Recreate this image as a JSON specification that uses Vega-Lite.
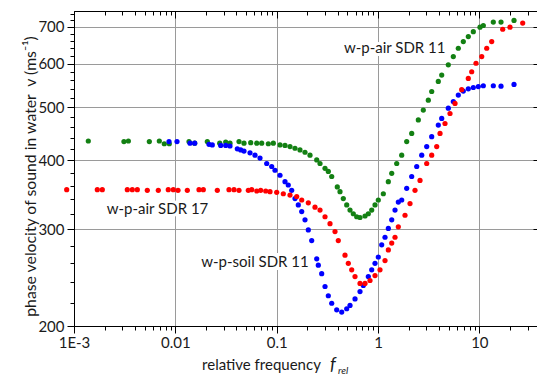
{
  "$schema": "https://vega.github.io/schema/vega-lite/v6.json",
  "width": 464,
  "height": 315,
  "autosize": {"type": "none"},
  "padding": {"left": 74, "top": 11, "right": 0, "bottom": 49},
  "background": "white",
  "config": {
    "view": {"stroke": "#000000", "strokeWidth": 1},
    "font": "Lato",
    "axis": {
      "domainColor": "#000000", "tickColor": "#000000", "labelColor": "#1a1a1a", "titleColor": "#1a1a1a",
      "labelFont": "Lato", "titleFont": "Lato", "labelFontSize": 15, "titleFontSize": 15,
      "titleFontWeight": "normal", "gridColor": "#9a9a9a", "gridWidth": 1, "domainWidth": 1, "tickWidth": 1
    }
  },
  "datasets": {
    "points": [
      {"series": "w-p-air SDR 11", "f": 0.001384, "v": 434}, {"series": "w-p-air SDR 11", "f": 0.00311, "v": 433},
      {"series": "w-p-air SDR 11", "f": 0.00344, "v": 434}, {"series": "w-p-air SDR 11", "f": 0.00554, "v": 433},
      {"series": "w-p-air SDR 11", "f": 0.00695, "v": 434}, {"series": "w-p-air SDR 11", "f": 0.00778, "v": 429},
      {"series": "w-p-air SDR 11", "f": 0.00872, "v": 429}, {"series": "w-p-air SDR 11", "f": 0.01364, "v": 433},
      {"series": "w-p-air SDR 11", "f": 0.01553, "v": 430}, {"series": "w-p-air SDR 11", "f": 0.02068, "v": 433},
      {"series": "w-p-air SDR 11", "f": 0.02742, "v": 430}, {"series": "w-p-air SDR 11", "f": 0.03141, "v": 432},
      {"series": "w-p-air SDR 11", "f": 0.03463, "v": 430}, {"series": "w-p-air SDR 11", "f": 0.04249, "v": 433},
      {"series": "w-p-air SDR 11", "f": 0.04761, "v": 430}, {"series": "w-p-air SDR 11", "f": 0.05544, "v": 431},
      {"series": "w-p-air SDR 11", "f": 0.06353, "v": 430}, {"series": "w-p-air SDR 11", "f": 0.07118, "v": 430},
      {"series": "w-p-air SDR 11", "f": 0.08272, "v": 429}, {"series": "w-p-air SDR 11", "f": 0.09266, "v": 430},
      {"series": "w-p-air SDR 11", "f": 0.1079, "v": 427}, {"series": "w-p-air SDR 11", "f": 0.1209, "v": 426},
      {"series": "w-p-air SDR 11", "f": 0.1354, "v": 424}, {"series": "w-p-air SDR 11", "f": 0.1517, "v": 421},
      {"series": "w-p-air SDR 11", "f": 0.1699, "v": 418}, {"series": "w-p-air SDR 11", "f": 0.1904, "v": 414},
      {"series": "w-p-air SDR 11", "f": 0.2133, "v": 409}, {"series": "w-p-air SDR 11", "f": 0.2485, "v": 401},
      {"series": "w-p-air SDR 11", "f": 0.2678, "v": 395}, {"series": "w-p-air SDR 11", "f": 0.3001, "v": 387},
      {"series": "w-p-air SDR 11", "f": 0.3234, "v": 382}, {"series": "w-p-air SDR 11", "f": 0.3494, "v": 374},
      {"series": "w-p-air SDR 11", "f": 0.3967, "v": 358}, {"series": "w-p-air SDR 11", "f": 0.4218, "v": 351},
      {"series": "w-p-air SDR 11", "f": 0.4546, "v": 341}, {"series": "w-p-air SDR 11", "f": 0.4912, "v": 332},
      {"series": "w-p-air SDR 11", "f": 0.5294, "v": 325}, {"series": "w-p-air SDR 11", "f": 0.5706, "v": 320},
      {"series": "w-p-air SDR 11", "f": 0.6165, "v": 316}, {"series": "w-p-air SDR 11", "f": 0.6645, "v": 315},
      {"series": "w-p-air SDR 11", "f": 0.7446, "v": 317}, {"series": "w-p-air SDR 11", "f": 0.8025, "v": 320},
      {"series": "w-p-air SDR 11", "f": 0.8669, "v": 325}, {"series": "w-p-air SDR 11", "f": 0.9344, "v": 332},
      {"series": "w-p-air SDR 11", "f": 1.007, "v": 339}, {"series": "w-p-air SDR 11", "f": 1.129, "v": 348},
      {"series": "w-p-air SDR 11", "f": 1.265, "v": 366}, {"series": "w-p-air SDR 11", "f": 1.366, "v": 379},
      {"series": "w-p-air SDR 11", "f": 1.53, "v": 395}, {"series": "w-p-air SDR 11", "f": 1.714, "v": 409},
      {"series": "w-p-air SDR 11", "f": 1.92, "v": 433}, {"series": "w-p-air SDR 11", "f": 2.151, "v": 448},
      {"series": "w-p-air SDR 11", "f": 2.5, "v": 474}, {"series": "w-p-air SDR 11", "f": 2.8, "v": 494},
      {"series": "w-p-air SDR 11", "f": 3.137, "v": 515}, {"series": "w-p-air SDR 11", "f": 3.389, "v": 534},
      {"series": "w-p-air SDR 11", "f": 3.937, "v": 557}, {"series": "w-p-air SDR 11", "f": 4.254, "v": 572},
      {"series": "w-p-air SDR 11", "f": 4.941, "v": 597}, {"series": "w-p-air SDR 11", "f": 5.536, "v": 618},
      {"series": "w-p-air SDR 11", "f": 6.203, "v": 640}, {"series": "w-p-air SDR 11", "f": 6.949, "v": 658},
      {"series": "w-p-air SDR 11", "f": 7.785, "v": 672}, {"series": "w-p-air SDR 11", "f": 8.721, "v": 686},
      {"series": "w-p-air SDR 11", "f": 10.15, "v": 699}, {"series": "w-p-air SDR 11", "f": 10.95, "v": 704},
      {"series": "w-p-air SDR 11", "f": 13.74, "v": 714}, {"series": "w-p-air SDR 11", "f": 16.37, "v": 714},
      {"series": "w-p-air SDR 11", "f": 21.99, "v": 719},

      {"series": "w-p-soil SDR 11", "f": 0.00866, "v": 433}, {"series": "w-p-soil SDR 11", "f": 0.01039, "v": 433},
      {"series": "w-p-soil SDR 11", "f": 0.01396, "v": 430}, {"series": "w-p-soil SDR 11", "f": 0.01553, "v": 430},
      {"series": "w-p-soil SDR 11", "f": 0.02149, "v": 428}, {"series": "w-p-soil SDR 11", "f": 0.02316, "v": 427},
      {"series": "w-p-soil SDR 11", "f": 0.02804, "v": 426}, {"series": "w-p-soil SDR 11", "f": 0.03141, "v": 426},
      {"series": "w-p-soil SDR 11", "f": 0.03463, "v": 425}, {"series": "w-p-soil SDR 11", "f": 0.04088, "v": 420},
      {"series": "w-p-soil SDR 11", "f": 0.04417, "v": 418}, {"series": "w-p-soil SDR 11", "f": 0.04761, "v": 416},
      {"series": "w-p-soil SDR 11", "f": 0.05456, "v": 413}, {"series": "w-p-soil SDR 11", "f": 0.06113, "v": 409},
      {"series": "w-p-soil SDR 11", "f": 0.06849, "v": 404}, {"series": "w-p-soil SDR 11", "f": 0.07976, "v": 395},
      {"series": "w-p-soil SDR 11", "f": 0.08933, "v": 390}, {"series": "w-p-soil SDR 11", "f": 0.09629, "v": 384},
      {"series": "w-p-soil SDR 11", "f": 0.1079, "v": 376}, {"series": "w-p-soil SDR 11", "f": 0.1209, "v": 366},
      {"series": "w-p-soil SDR 11", "f": 0.1302, "v": 361}, {"series": "w-p-soil SDR 11", "f": 0.1407, "v": 353},
      {"series": "w-p-soil SDR 11", "f": 0.1517, "v": 341}, {"series": "w-p-soil SDR 11", "f": 0.1635, "v": 332},
      {"series": "w-p-soil SDR 11", "f": 0.1767, "v": 323}, {"series": "w-p-soil SDR 11", "f": 0.1904, "v": 312},
      {"series": "w-p-soil SDR 11", "f": 0.2053, "v": 299}, {"series": "w-p-soil SDR 11", "f": 0.2217, "v": 286},
      {"series": "w-p-soil SDR 11", "f": 0.2485, "v": 265}, {"series": "w-p-soil SDR 11", "f": 0.2576, "v": 258},
      {"series": "w-p-soil SDR 11", "f": 0.2783, "v": 249}, {"series": "w-p-soil SDR 11", "f": 0.3001, "v": 236},
      {"series": "w-p-soil SDR 11", "f": 0.3234, "v": 227}, {"series": "w-p-soil SDR 11", "f": 0.3494, "v": 220},
      {"series": "w-p-soil SDR 11", "f": 0.3913, "v": 214}, {"series": "w-p-soil SDR 11", "f": 0.4385, "v": 212},
      {"series": "w-p-soil SDR 11", "f": 0.4912, "v": 215}, {"series": "w-p-soil SDR 11", "f": 0.5294, "v": 218},
      {"series": "w-p-soil SDR 11", "f": 0.5932, "v": 224}, {"series": "w-p-soil SDR 11", "f": 0.6645, "v": 231},
      {"series": "w-p-soil SDR 11", "f": 0.7161, "v": 237}, {"series": "w-p-soil SDR 11", "f": 0.8025, "v": 246},
      {"series": "w-p-soil SDR 11", "f": 0.8669, "v": 253}, {"series": "w-p-soil SDR 11", "f": 0.9344, "v": 260},
      {"series": "w-p-soil SDR 11", "f": 1.007, "v": 267}, {"series": "w-p-soil SDR 11", "f": 1.088, "v": 281},
      {"series": "w-p-soil SDR 11", "f": 1.173, "v": 290}, {"series": "w-p-soil SDR 11", "f": 1.265, "v": 301},
      {"series": "w-p-soil SDR 11", "f": 1.366, "v": 312}, {"series": "w-p-soil SDR 11", "f": 1.472, "v": 325},
      {"series": "w-p-soil SDR 11", "f": 1.587, "v": 336}, {"series": "w-p-soil SDR 11", "f": 1.714, "v": 339},
      {"series": "w-p-soil SDR 11", "f": 1.92, "v": 356}, {"series": "w-p-soil SDR 11", "f": 2.151, "v": 374},
      {"series": "w-p-soil SDR 11", "f": 2.411, "v": 390}, {"series": "w-p-soil SDR 11", "f": 2.701, "v": 409},
      {"series": "w-p-soil SDR 11", "f": 3.025, "v": 424}, {"series": "w-p-soil SDR 11", "f": 3.389, "v": 442},
      {"series": "w-p-soil SDR 11", "f": 3.937, "v": 464}, {"series": "w-p-soil SDR 11", "f": 4.254, "v": 477},
      {"series": "w-p-soil SDR 11", "f": 4.941, "v": 498}, {"series": "w-p-soil SDR 11", "f": 5.536, "v": 512},
      {"series": "w-p-soil SDR 11", "f": 6.203, "v": 526}, {"series": "w-p-soil SDR 11", "f": 6.949, "v": 535},
      {"series": "w-p-soil SDR 11", "f": 7.785, "v": 540}, {"series": "w-p-soil SDR 11", "f": 8.721, "v": 543},
      {"series": "w-p-soil SDR 11", "f": 9.77, "v": 545}, {"series": "w-p-soil SDR 11", "f": 10.95, "v": 547},
      {"series": "w-p-soil SDR 11", "f": 13.74, "v": 547}, {"series": "w-p-soil SDR 11", "f": 16.37, "v": 546},
      {"series": "w-p-soil SDR 11", "f": 21.99, "v": 550},

      {"series": "w-p-air SDR 17", "f": 0.000847, "v": 354}, {"series": "w-p-air SDR 17", "f": 0.001698, "v": 354},
      {"series": "w-p-air SDR 17", "f": 0.001902, "v": 354}, {"series": "w-p-air SDR 17", "f": 0.003357, "v": 354},
      {"series": "w-p-air SDR 17", "f": 0.003761, "v": 354}, {"series": "w-p-air SDR 17", "f": 0.004214, "v": 354},
      {"series": "w-p-air SDR 17", "f": 0.005288, "v": 353}, {"series": "w-p-air SDR 17", "f": 0.00679, "v": 353},
      {"series": "w-p-air SDR 17", "f": 0.00852, "v": 354}, {"series": "w-p-air SDR 17", "f": 0.00955, "v": 354},
      {"series": "w-p-air SDR 17", "f": 0.01063, "v": 353}, {"series": "w-p-air SDR 17", "f": 0.01313, "v": 353},
      {"series": "w-p-air SDR 17", "f": 0.01712, "v": 354}, {"series": "w-p-air SDR 17", "f": 0.01888, "v": 354},
      {"series": "w-p-air SDR 17", "f": 0.02596, "v": 353}, {"series": "w-p-air SDR 17", "f": 0.03384, "v": 354},
      {"series": "w-p-air SDR 17", "f": 0.03793, "v": 354}, {"series": "w-p-air SDR 17", "f": 0.04249, "v": 353},
      {"series": "w-p-air SDR 17", "f": 0.0525, "v": 353}, {"series": "w-p-air SDR 17", "f": 0.05671, "v": 354},
      {"series": "w-p-air SDR 17", "f": 0.06353, "v": 352}, {"series": "w-p-air SDR 17", "f": 0.06958, "v": 353},
      {"series": "w-p-air SDR 17", "f": 0.07797, "v": 352}, {"series": "w-p-air SDR 17", "f": 0.08596, "v": 351},
      {"series": "w-p-air SDR 17", "f": 0.1001, "v": 350}, {"series": "w-p-air SDR 17", "f": 0.1163, "v": 348},
      {"series": "w-p-air SDR 17", "f": 0.1354, "v": 346}, {"series": "w-p-air SDR 17", "f": 0.1577, "v": 344},
      {"series": "w-p-air SDR 17", "f": 0.1767, "v": 339}, {"series": "w-p-air SDR 17", "f": 0.2053, "v": 335},
      {"series": "w-p-air SDR 17", "f": 0.239, "v": 329}, {"series": "w-p-air SDR 17", "f": 0.2678, "v": 325},
      {"series": "w-p-air SDR 17", "f": 0.3001, "v": 316}, {"series": "w-p-air SDR 17", "f": 0.3361, "v": 307},
      {"series": "w-p-air SDR 17", "f": 0.3765, "v": 297}, {"series": "w-p-air SDR 17", "f": 0.4057, "v": 286},
      {"series": "w-p-air SDR 17", "f": 0.4725, "v": 269}, {"series": "w-p-air SDR 17", "f": 0.5094, "v": 260},
      {"series": "w-p-air SDR 17", "f": 0.5503, "v": 253}, {"series": "w-p-air SDR 17", "f": 0.5932, "v": 246},
      {"series": "w-p-air SDR 17", "f": 0.6645, "v": 239}, {"series": "w-p-air SDR 17", "f": 0.7446, "v": 239},
      {"series": "w-p-air SDR 17", "f": 0.8341, "v": 242}, {"series": "w-p-air SDR 17", "f": 0.9344, "v": 247},
      {"series": "w-p-air SDR 17", "f": 1.047, "v": 253}, {"series": "w-p-air SDR 17", "f": 1.173, "v": 263},
      {"series": "w-p-air SDR 17", "f": 1.265, "v": 275}, {"series": "w-p-air SDR 17", "f": 1.366, "v": 283},
      {"series": "w-p-air SDR 17", "f": 1.472, "v": 290}, {"series": "w-p-air SDR 17", "f": 1.587, "v": 303},
      {"series": "w-p-air SDR 17", "f": 1.848, "v": 318}, {"series": "w-p-air SDR 17", "f": 2.07, "v": 334},
      {"series": "w-p-air SDR 17", "f": 2.319, "v": 353}, {"series": "w-p-air SDR 17", "f": 2.598, "v": 368},
      {"series": "w-p-air SDR 17", "f": 3.025, "v": 395}, {"series": "w-p-air SDR 17", "f": 3.389, "v": 409},
      {"series": "w-p-air SDR 17", "f": 3.797, "v": 424}, {"series": "w-p-air SDR 17", "f": 4.093, "v": 448},
      {"series": "w-p-air SDR 17", "f": 4.585, "v": 467}, {"series": "w-p-air SDR 17", "f": 5.137, "v": 487},
      {"series": "w-p-air SDR 17", "f": 5.754, "v": 508}, {"series": "w-p-air SDR 17", "f": 6.7, "v": 538},
      {"series": "w-p-air SDR 17", "f": 7.785, "v": 564}, {"series": "w-p-air SDR 17", "f": 8.41, "v": 580},
      {"series": "w-p-air SDR 17", "f": 9.273, "v": 601}, {"series": "w-p-air SDR 17", "f": 10.56, "v": 618},
      {"series": "w-p-air SDR 17", "f": 11.83, "v": 640}, {"series": "w-p-air SDR 17", "f": 13.25, "v": 658},
      {"series": "w-p-air SDR 17", "f": 17.01, "v": 693}, {"series": "w-p-air SDR 17", "f": 20.07, "v": 699},
      {"series": "w-p-air SDR 17", "f": 26.79, "v": 711}
    ],
    "labels": [
      {"label": "w-p-air SDR 11", "f": 1.462, "v": 641},
      {"label": "w-p-air SDR 17", "f": 0.00667, "v": 326},
      {"label": "w-p-soil SDR 11", "f": 0.0611, "v": 262}
    ],
    "symbol": [
      {"label": "f", "f": 0.3597, "v": 166},
      {"label": "rel", "f": 0.403, "v": 163.3}
    ]
  },
  "resolve": {"axis": {"x": "independent", "y": "independent"}},
  "layer": [
    {
      "data": {"name": "points"},
      "mark": {"type": "circle", "size": 27, "opacity": 1},
      "encoding": {
        "x": {
          "field": "f", "type": "quantitative",
          "scale": {"type": "log", "domain": [0.001, 37.93], "nice": false},
          "axis": {
            "orient": "bottom",
            "values": [0.001,0.002,0.003,0.004,0.005,0.006,0.007,0.008,0.009,0.01,0.02,0.03,0.04,0.05,0.06,0.07,0.08,0.09,0.1,0.2,0.3,0.4,0.5,0.6,0.7,0.8,0.9,1,2,3,4,5,6,7,8,9,10,20,30],
            "labelExpr": "datum.value == 0.001 ? '1E-3' : datum.value == 0.01 ? '0.01' : datum.value == 0.1 ? '0.1' : datum.value == 1 ? '1' : datum.value == 10 ? '10' : ''",
            "labelFlush": false, "labelOverlap": false, "labelBound": false,
            "grid": true,
            "tickSize": {"condition": {"test": "abs(log(datum.value)/LN10 - round(log(datum.value)/LN10)) < 0.001", "value": 7}, "value": 4},
            "gridOpacity": {"condition": {"test": "abs(log(datum.value)/LN10 - round(log(datum.value)/LN10)) < 0.001", "value": 1}, "value": 0},
            "labelPadding": 2,
            "title": "relative frequency",
            "titleX": 187, "titleY": 43, "titleBaseline": "alphabetic", "titleAlign": "center"
          }
        },
        "y": {
          "field": "v", "type": "quantitative",
          "scale": {"type": "log", "domain": [200, 748], "nice": false, "zero": false},
          "axis": {
            "orient": "left",
            "values": [200,220,240,260,280,300,320,340,360,380,400,420,440,460,480,500,520,540,560,580,600,620,640,660,680,700,720,740],
            "labelExpr": "datum.value % 100 == 0 ? '' + datum.value : ''",
            "labelOverlap": false, "labelFlush": false,
            "grid": true,
            "tickSize": {"condition": {"test": "datum.value % 100 == 0", "value": 7}, "value": 4},
            "gridOpacity": {"condition": {"test": "datum.value % 100 == 0", "value": 1}, "value": 0},
            "labelPadding": 3,
            "title": "phase velocity of sound in water\u00a0\u00a0v (ms⁻¹)",
            "titleFontSize": 15.8,
            "titleAngle": -90, "titleX": -39, "titleY": 165, "titleBaseline": "alphabetic", "titleAlign": "center"
          }
        },
        "color": {
          "field": "series", "type": "nominal",
          "scale": {"domain": ["w-p-air SDR 11", "w-p-air SDR 17", "w-p-soil SDR 11"], "range": ["#138013", "#ff0000", "#0000ff"]},
          "legend": null
        }
      }
    },
    {
      "data": {"name": "labels"},
      "mark": {"type": "text", "fontSize": 15, "font": "Lato", "fill": "white", "stroke": "white", "strokeWidth": 6, "align": "center", "baseline": "middle"},
      "encoding": {
        "x": {
          "field": "f", "type": "quantitative",
          "axis": {
            "orient": "top",
            "values": [0.001,0.002,0.003,0.004,0.005,0.006,0.007,0.008,0.009,0.01,0.02,0.03,0.04,0.05,0.06,0.07,0.08,0.09,0.1,0.2,0.3,0.4,0.5,0.6,0.7,0.8,0.9,1,2,3,4,5,6,7,8,9,10,20,30],
            "labels": false, "title": null, "grid": false,
            "tickSize": {"condition": {"test": "abs(log(datum.value)/LN10 - round(log(datum.value)/LN10)) < 0.001", "value": -7}, "value": -4}
          }
        },
        "y": {
          "field": "v", "type": "quantitative",
          "axis": {
            "orient": "right",
            "values": [200,300,400,500,600,700],
            "labels": false, "title": null, "grid": false, "tickSize": -5
          }
        },
        "text": {"field": "label"}
      }
    },
    {
      "data": {"name": "labels"},
      "mark": {"type": "text", "fontSize": 15, "font": "Lato", "color": "#1a1a1a", "align": "center", "baseline": "middle"},
      "encoding": {
        "x": {"field": "f", "type": "quantitative", "axis": null},
        "y": {"field": "v", "type": "quantitative", "axis": null},
        "text": {"field": "label"}
      }
    },
    {
      "data": {"name": "symbol"},
      "transform": [{"filter": "datum.label == 'f'"}],
      "mark": {"type": "text", "fontSize": 18, "font": "Lato", "fontStyle": "italic", "color": "#1a1a1a", "align": "center", "baseline": "alphabetic"},
      "encoding": {
        "x": {"field": "f", "type": "quantitative", "axis": null},
        "y": {"field": "v", "type": "quantitative", "axis": null},
        "text": {"field": "label"}
      }
    },
    {
      "data": {"name": "symbol"},
      "transform": [{"filter": "datum.label == 'rel'"}],
      "mark": {"type": "text", "fontSize": 10, "font": "Lato", "fontStyle": "italic", "color": "#1a1a1a", "align": "left", "baseline": "alphabetic"},
      "encoding": {
        "x": {"field": "f", "type": "quantitative", "axis": null},
        "y": {"field": "v", "type": "quantitative", "axis": null},
        "text": {"field": "label"}
      }
    }
  ]
}
